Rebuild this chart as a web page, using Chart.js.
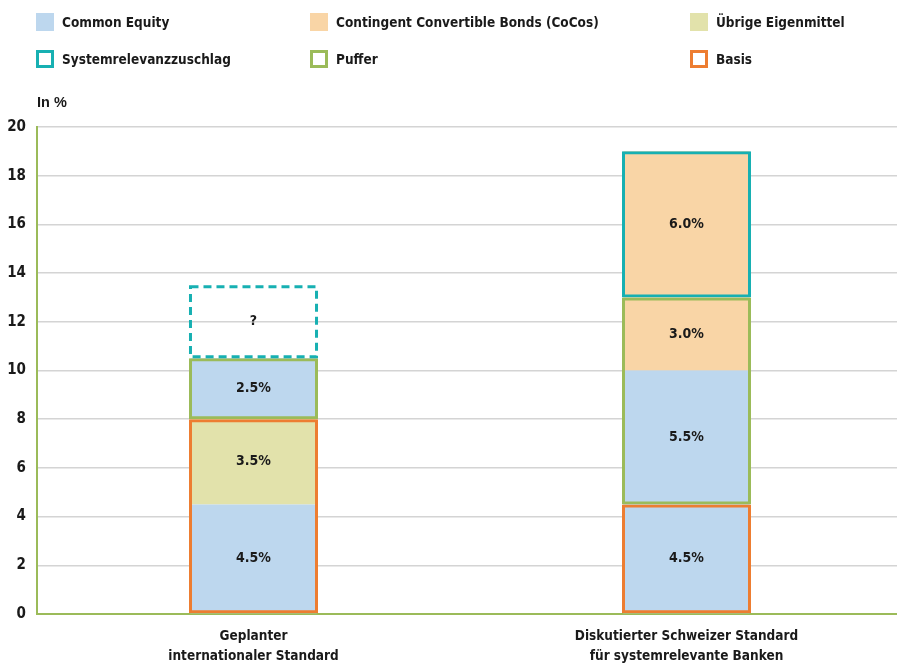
<!DOCTYPE html>
<html>
<head>
<meta charset="utf-8">
<script src="https://cdn.jsdelivr.net/npm/chart.js@4.4.0/dist/chart.umd.min.js"></script>
<style>
  body { margin: 0; background: #fff; overflow: hidden; }
  #wrap { position: relative; width: 897px; height: 666px; overflow: hidden; }
  #legend { position: absolute; left: 0; top: 0; width: 897px; height: 80px;
    font-family: "Liberation Sans Narrow", "DejaVu Sans Condensed", sans-serif; font-weight: bold; font-size: 13.5px; color: #1a1a1a; }
  .item { position: absolute; height: 18px; line-height: 18px; white-space: nowrap; }
  .item .box { position: absolute; left: 0; top: 0; width: 18px; height: 18px; box-sizing: border-box; }
  .item span { position: absolute; left: 26px; top: 0; }
  #yTitle { position: absolute; left: 37px; top: 94px; font-family: "Liberation Sans Narrow", sans-serif; font-weight: bold; font-size: 14.5px; color: #1a1a1a; }
</style>
</head>
<body>
<div id="wrap">
  <canvas id="myChart" width="903" height="666"></canvas>
  <div id="legend"></div>
  <div id="yTitle">In %</div>
</div>
<script>
const categories = [["Geplanter", "internationaler Standard"], ["Diskutierter Schweizer Standard", "für systemrelevante Banken"]];
const commonEquityBase = [4.5, 4.5];
const uebrigeEigenmittel = [3.5, 0];
const commonEquityTop = [2.5, 5.5];
const cocosLower = [0, 3.0];
const cocosUpper = [0, 6.0];
const basis = [[0, 8], [0, 4.5]];
const puffer = [[8, 10.5], [4.5, 13]];
const systemrelevanz = [[10.5, 13.5], [13, 19]];
const systemLabels = ["?", ""];
const yTicks = [0, 2, 4, 6, 8, 10, 12, 14, 16, 18, 20];

const blue = '#bdd7ee', peach = '#f9d5a6', olive = '#e2e2ab';
const teal = '#17b0b2', green = '#9bbb59', orange = '#ed7d31';
const font = '"Liberation Sans Narrow", "DejaVu Sans Condensed", sans-serif';

// html legend
const legendItems = [
  { text: 'Common Equity', fill: blue, x: 36, y: 13 },
  { text: 'Contingent Convertible Bonds (CoCos)', fill: peach, x: 310, y: 13 },
  { text: 'Übrige Eigenmittel', fill: olive, x: 690, y: 13 },
  { text: 'Systemrelevanzzuschlag', border: teal, x: 36, y: 50 },
  { text: 'Puffer', border: green, x: 310, y: 50 },
  { text: 'Basis', border: orange, x: 690, y: 50 }
];
const legendEl = document.getElementById('legend');
legendItems.forEach(function (it) {
  const d = document.createElement('div');
  d.className = 'item';
  d.style.left = it.x + 'px';
  d.style.top = it.y + 'px';
  const b = document.createElement('div');
  b.className = 'box';
  if (it.fill) b.style.background = it.fill;
  else b.style.border = '3px solid ' + it.border;
  const s = document.createElement('span');
  s.textContent = it.text;
  d.appendChild(b);
  d.appendChild(s);
  legendEl.appendChild(d);
});

function fillSet(label, data, color) {
  return { label: label, data: data, backgroundColor: color, borderWidth: 0, stack: 'fill', order: 1,
    grouped: false, barPercentage: 0.292, categoryPercentage: 1 };
}
function boxSet(label, data, color, stack) {
  return { label: label, data: data, backgroundColor: 'rgba(0,0,0,0)', borderColor: color, order: 0,
    borderWidth: 3, borderSkipped: false, stack: stack, grouped: false, barPercentage: 0.298, categoryPercentage: 1 };
}

const datasets = [
  fillSet('Common Equity', commonEquityBase, blue),
  fillSet('Übrige Eigenmittel', uebrigeEigenmittel, olive),
  fillSet('Common Equity ', commonEquityTop, blue),
  fillSet('CoCos', cocosLower, peach),
  fillSet('CoCos ', cocosUpper, peach),
  boxSet('Basis', basis, orange, 'b'),
  boxSet('Puffer', puffer, green, 'p'),
  boxSet('Systemrelevanzzuschlag', systemrelevanz, function (c) { return c.dataIndex === 0 ? 'rgba(0,0,0,0)' : teal; }, 's')
];

const labelPlugin = {
  id: 'labels',
  afterDatasetsDraw: function (chart) {
    const ctx = chart.ctx;
    ctx.save();
    // dashed box for the open surcharge
    const sysMeta = chart.getDatasetMeta(7);
    const el = sysMeta.data[0];
    const top = Math.min(el.y, el.base), bot = Math.max(el.y, el.base);
    ctx.strokeStyle = teal;
    ctx.lineWidth = 3;
    ctx.setLineDash([8, 5]);
    ctx.strokeRect(el.x - el.width / 2 + 1.5, top + 1.5, el.width - 3, bot - top - 3);
    ctx.setLineDash([]);

    ctx.fillStyle = '#1a1a1a';
    ctx.font = 'bold 14px ' + font;
    ctx.textAlign = 'center';
    ctx.textBaseline = 'middle';
    for (let i = 0; i < 5; i++) {
      const meta = chart.getDatasetMeta(i);
      meta.data.forEach(function (bar, j) {
        const v = chart.data.datasets[i].data[j];
        if (!v) return;
        ctx.fillText(v.toFixed(1) + '%', bar.x, (bar.y + bar.base) / 2);
      });
    }
    sysMeta.data.forEach(function (bar, j) {
      if (systemLabels[j]) ctx.fillText(systemLabels[j], bar.x, (bar.y + bar.base) / 2);
    });
    ctx.restore();
  }
};

new Chart(document.getElementById('myChart'), {
  type: 'bar',
  data: { labels: categories, datasets: datasets },
  options: {
    responsive: false,
    animation: false,
    layout: { padding: { top: 127, left: 0, right: 0, bottom: 0 } },
    plugins: { legend: { display: false }, tooltip: { enabled: false } },
    scales: {
      x: {
        stacked: true,
        grid: { display: false, drawTicks: false },
        border: { color: green, width: 2 },
        ticks: { padding: 13, color: '#1a1a1a', font: { family: font, weight: 'bold', size: 13.5, lineHeight: 1.45 } },
        afterFit: function (s) { s.height = 52; }
      },
      y: {
        stacked: true,
        min: 0, max: 20,
        afterBuildTicks: function (s) { s.ticks = yTicks.map(function (v) { return { value: v }; }); },
        grid: { color: '#d4d4d4', lineWidth: 1.5, drawTicks: false },
        border: { color: green, width: 2 },
        ticks: { padding: 11, color: '#1a1a1a', font: { family: font, weight: 'bold', size: 15 } },
        afterFit: function (s) { s.width = 37; }
      }
    }
  },
  plugins: [labelPlugin]
});
</script>
</body>
</html>
